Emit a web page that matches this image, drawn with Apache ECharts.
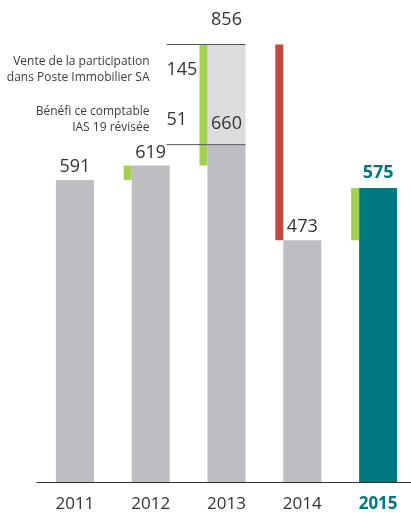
<!DOCTYPE html>
<html>
<head>
<meta charset="utf-8">
<script src="https://cdn.jsdelivr.net/npm/echarts@6/dist/echarts.min.js"></script>
<style>
  html, body { margin: 0; padding: 0; background: #fff; overflow: hidden; }
  #chart { width: 420px; height: 513px; }
</style>
</head>
<body>
<div id="chart"></div>
<script>
// résultat par année
const years = ['2011', '2012', '2013', '2014', '2015'];
const results = [591, 619, 660, 473, 575];
// variation vers l'année (de -> à)
const stepFrom = [null, 591, 619, 856, 473];
const stepTo = [null, 619, 856, 473, 575];
// 2013 : effets exceptionnels au-dessus du résultat
const extraIndex = 2;
const extraFrom = 660;
const extraTo = 856;
const noteValues = ['145', '51'];
const noteTexts = ['Vente de la participation\ndans Poste Immobilier SA', 'Bénéfi ce comptable\nIAS 19 révisée'];
const noteLevels = [806, 709];

const GRAY = '#bdbec2';
const LIGHT = '#dcdcde';
const GREEN = '#a5cf50';
const RED = '#c3473b';
const TEAL = '#007880';
const TXT = '#333333';
const FONT = '"Open Sans", sans-serif';

const chart = echarts.init(document.getElementById('chart'));

const stepData = [];
years.forEach((y, i) => {
  if (stepFrom[i] != null) stepData.push([i, stepFrom[i], stepTo[i]]);
});

chart.setOption({
  animation: false,
  textStyle: { fontFamily: FONT },
  grid: { left: 37, right: 4, top: 22, bottom: 30 },
  xAxis: {
    type: 'category',
    data: years,
    axisLine: { lineStyle: { color: '#333', width: 1 } },
    axisTick: { show: false },
    axisLabel: {
      interval: 0,
      margin: 14,
      fontSize: 17,
      color: TXT,
      fontFamily: FONT,
      formatter: v => v === '2015' ? '{hl|' + v + '}' : v,
      rich: { hl: { fontSize: 17, fontWeight: 'bold', color: TEAL, fontFamily: FONT } }
    }
  },
  yAxis: { type: 'value', min: 0, max: 900, show: false },
  series: [
    {
      // partie claire 2013
      type: 'custom',
      z: 1,
      data: [[extraIndex, extraFrom, extraTo]],
      encode: { x: 0, y: [1, 2] },
      renderItem: (params, api) => {
        const a = api.coord([api.value(0), api.value(1)]);
        const b = api.coord([api.value(0), api.value(2)]);
        return {
          type: 'group',
          children: [
            { type: 'rect', shape: { x: a[0] - 19, y: b[1], width: 38, height: a[1] - b[1] }, style: { fill: LIGHT } },
            { type: 'text', style: { text: String(api.value(2)), x: b[0], y: b[1] - 25, align: 'center', verticalAlign: 'middle', font: '18px ' + FONT, fill: TXT } }
          ]
        };
      }
    },
    {
      type: 'bar',
      z: 2,
      barWidth: 38,
      data: results.map((v, i) => ({
        value: v,
        itemStyle: { color: i === 4 ? TEAL : GRAY },
        label: i === 4
          ? { color: TEAL, fontWeight: 'bold', distance: 6 }
          : (i === 2 ? { distance: 12 } : {})
      })),
      label: { show: true, position: 'top', distance: 4, fontSize: 18, color: TXT, fontFamily: FONT }
    },
    {
      // variations
      type: 'custom',
      z: 3,
      data: stepData,
      encode: { x: 0, y: [1, 2] },
      renderItem: (params, api) => {
        const a = api.coord([api.value(0), api.value(1)]);
        const b = api.coord([api.value(0), api.value(2)]);
        return {
          type: 'rect',
          shape: { x: a[0] - 19 - 8, y: Math.min(a[1], b[1]), width: 8, height: Math.abs(a[1] - b[1]) },
          style: { fill: api.value(2) >= api.value(1) ? GREEN : RED }
        };
      }
    },
    {
      // lignes de repère 2013
      type: 'custom',
      z: 4,
      data: [[extraIndex, extraTo], [extraIndex, extraFrom]],
      encode: { x: 0, y: 1 },
      renderItem: (params, api) => {
        const p = api.coord([api.value(0), api.value(1)]);
        return {
          type: 'line',
          shape: { x1: p[0] - 60, y1: p[1], x2: p[0] + 19, y2: p[1] },
          style: { stroke: '#555', lineWidth: 1 }
        };
      }
    },
    {
      // notes 2013
      type: 'custom',
      z: 5,
      data: noteLevels.map((v, k) => [extraIndex, v, k]),
      encode: { x: 0, y: 1 },
      renderItem: (params, api) => {
        const p = api.coord([api.value(0), api.value(1)]);
        const k = api.value(2);
        return {
          type: 'group',
          children: [
            { type: 'text', style: { text: noteValues[k], x: p[0] - 60, y: p[1], align: 'left', verticalAlign: 'middle', font: '18px ' + FONT, fill: TXT } },
            { type: 'text', style: { text: noteTexts[k], x: p[0] - 77, y: p[1], align: 'right', verticalAlign: 'middle', font: '12px ' + FONT, lineHeight: 16, fill: '#3c3c3c' } }
          ]
        };
      }
    }
  ]
});
</script>
</body>
</html>
